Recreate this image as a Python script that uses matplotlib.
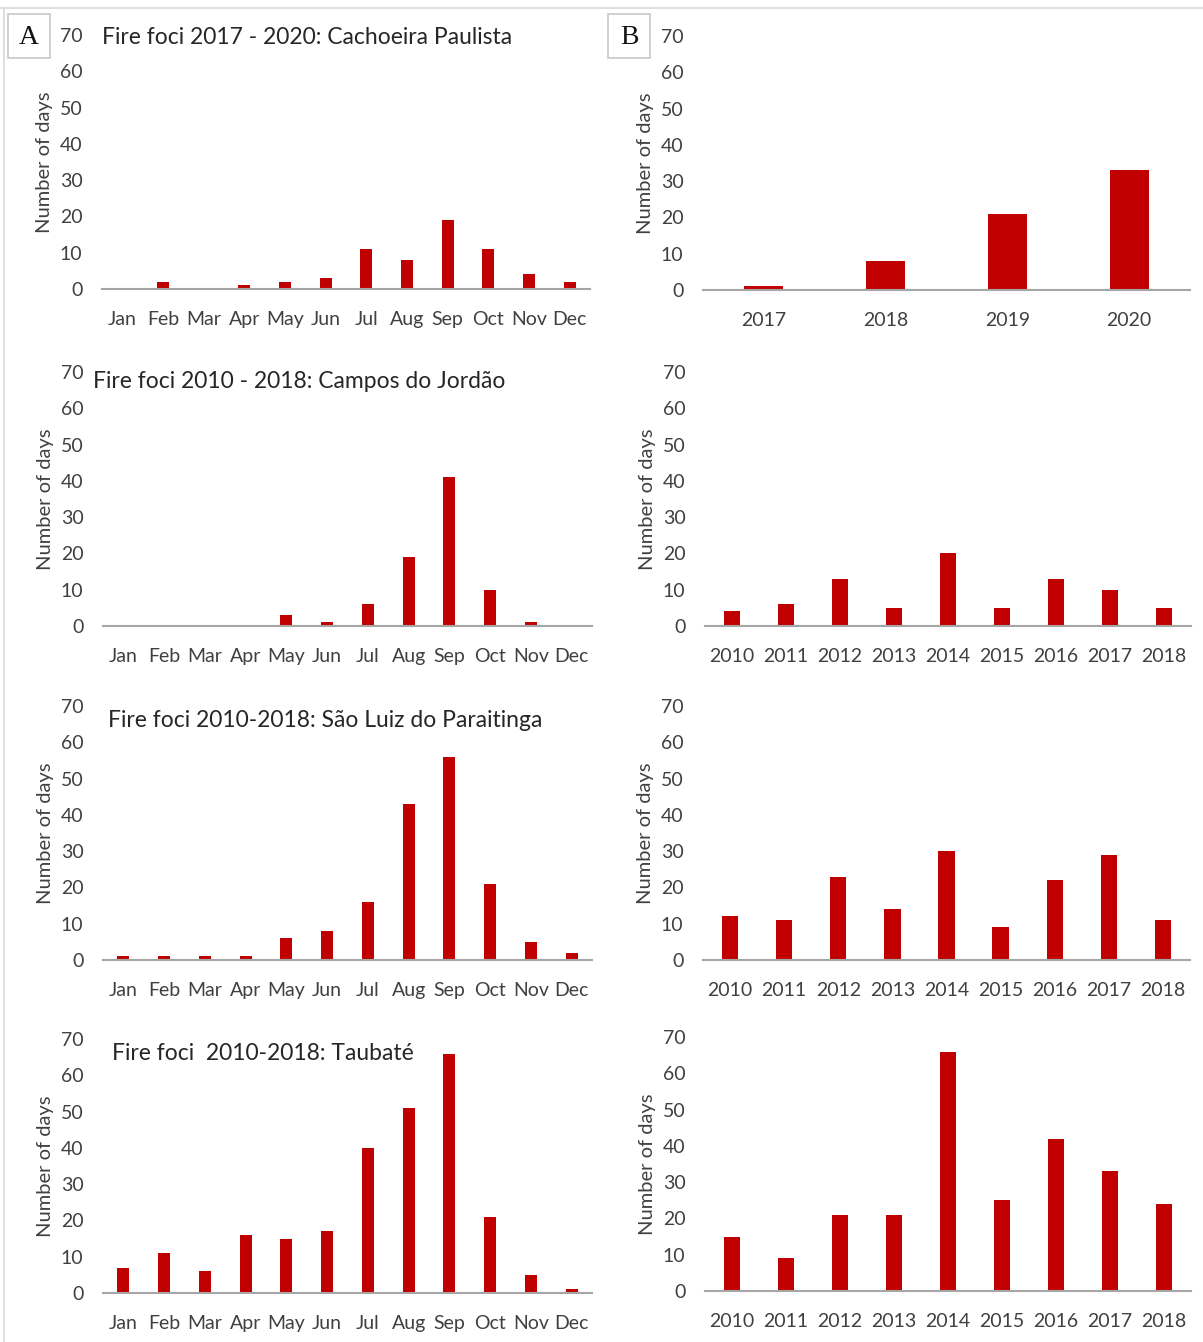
import matplotlib
matplotlib.use("Agg")
import matplotlib.pyplot as plt
from matplotlib.patches import Rectangle
from matplotlib.lines import Line2D

# ---------------- data ----------------
months = ["Jan", "Feb", "Mar", "Apr", "May", "Jun", "Jul", "Aug", "Sep", "Oct", "Nov", "Dec"]
years_cp = ["2017", "2018", "2019", "2020"]
years_10_18 = ["2010", "2011", "2012", "2013", "2014", "2015", "2016", "2017", "2018"]

cachoeira_month = [0, 2, 0, 1, 2, 3, 11, 8, 19, 11, 4, 2]
cachoeira_year = [1, 8, 21, 33]

campos_month = [0, 0, 0, 0, 3, 1, 6, 19, 41, 10, 1, 0]
campos_year = [4, 6, 13, 5, 20, 5, 13, 10, 5]

saoluiz_month = [1, 1, 1, 1, 6, 8, 16, 43, 56, 21, 5, 2]
saoluiz_year = [12, 11, 23, 14, 30, 9, 22, 29, 11]

taubate_month = [7, 11, 6, 16, 15, 17, 40, 51, 66, 21, 5, 1]
taubate_year = [15, 9, 21, 21, 66, 25, 42, 33, 24]

titles = ["Fire foci 2017 - 2020: Cachoeira Paulista",
          "Fire foci 2010 - 2018: Campos do Jordão",
          "Fire foci 2010-2018: São Luiz do Paraitinga",
          "Fire foci  2010-2018: Taubaté"]
y_ticks = [0, 10, 20, 30, 40, 50, 60, 70]

# ---------------- style ----------------
W, H = 1203, 1342
FONT = ["Lato", "DejaVu Sans"]
plt.rcParams["font.family"] = FONT
BAR = "#C00000"
TXT = "#404040"

fig = plt.figure(figsize=(W / 100, H / 100), dpi=100)
fig.patch.set_facecolor("white")


def make_axes(x0, x1, y0, y70, cats, vals, bar_w=0.3):
    ax = fig.add_axes([x0 / W, 1 - y0 / H, (x1 - x0) / W, (y0 - y70) / H])
    ax.bar(range(len(cats)), vals, width=bar_w, color=BAR, zorder=3)
    ax.set_xlim(-0.5, len(cats) - 0.5)
    ax.set_ylim(0, 70)
    ax.set_yticks(y_ticks)
    ax.set_xticks(range(len(cats)))
    ax.set_xticklabels(cats)
    for s in ["top", "right", "left"]:
        ax.spines[s].set_visible(False)
    ax.spines["bottom"].set_color("#a6a6a6")
    ax.spines["bottom"].set_linewidth(1.5)
    ax.spines["bottom"].set_zorder(4)
    ax.tick_params(axis="both", length=0, labelsize=14, colors=TXT)
    ax.tick_params(axis="y", pad=14)
    ax.tick_params(axis="x", pad=16)
    ax.set_ylabel("Number of days", fontsize=14.5, color=TXT, labelpad=5)
    ax.patch.set_alpha(0)
    return ax


# row 1
make_axes(102, 590, 289, 35, months, cachoeira_month)
make_axes(703, 1190, 290, 36, years_cp, cachoeira_year, bar_w=0.32)
# row 2
make_axes(103, 592, 626, 372, months, campos_month)
make_axes(705, 1191, 626, 372, years_10_18, campos_year)
# row 3
make_axes(103, 592, 960, 706, months, saoluiz_month)
make_axes(703, 1190, 960, 706, years_10_18, saoluiz_year)
# row 4
make_axes(103, 592, 1293, 1039, months, taubate_month)
make_axes(705, 1191, 1291, 1037, years_10_18, taubate_year)

# titles
title_pos = [(102, 37), (93, 381), (108, 721), (112, 1053)]
for t, (tx, ty) in zip(titles, title_pos):
    fig.text(tx / W, 1 - ty / H, t, fontsize=16.5, color="#262626",
             ha="left", va="center")

# panel letter boxes
for letter, bx in [("A", 8), ("B", 608)]:
    fig.add_artist(Rectangle((bx / W, 1 - 58 / H), 42 / W, 44 / H,
                             transform=fig.transFigure, facecolor="white",
                             edgecolor="#c8c8c8", linewidth=1.2))
    fig.text((bx + 21) / W, 1 - 37 / H, letter, fontsize=20,
             family=["Liberation Serif", "DejaVu Serif"], color="#111111",
             ha="center", va="center")

# faint outer frame lines
fig.add_artist(Line2D([0, 1], [1 - 8 / H, 1 - 8 / H], transform=fig.transFigure,
                      color="#d9d9d9", linewidth=1.2))
fig.add_artist(Line2D([4 / W, 4 / W], [0, 1 - 8 / H], transform=fig.transFigure,
                      color="#d9d9d9", linewidth=1.2))

fig.savefig("out.png", dpi=100)
